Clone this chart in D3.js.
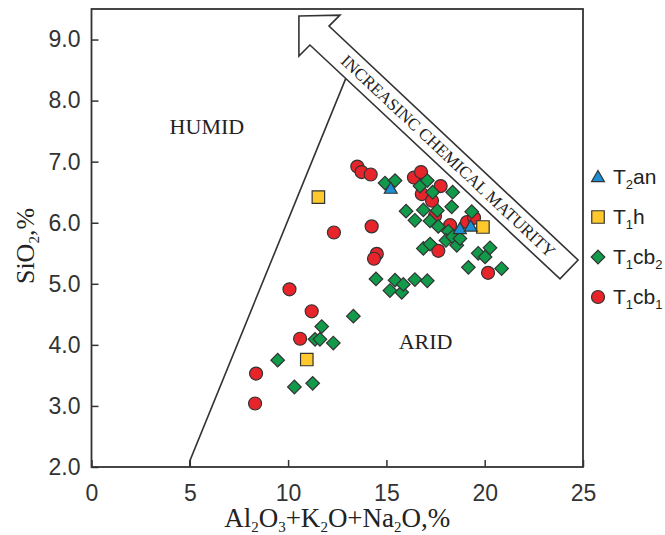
<!DOCTYPE html>
<html>
<head>
<meta charset="utf-8">
<script src="https://cdn.jsdelivr.net/npm/d3@7"></script>
<style>
  body { margin: 0; background: #fff; }
  svg { display: block; }
</style>
</head>
<body>
<svg id="chart" width="665" height="535"></svg>
<script>
// #region Data
const xTicks = [0, 5, 10, 15, 20, 25];
const yTicks = [2, 3, 4, 5, 6, 7, 8, 9];

// [Al2O3+K2O+Na2O %, SiO2 %]
const t2an = [[15.22, 6.56], [18.74, 5.9], [19.29, 5.94]];
const t1h = [[11.54, 6.42], [10.95, 3.76], [19.91, 5.93]];
const t1cb2 = [
  [9.47, 3.75], [10.32, 3.31], [11.25, 3.37], [11.37, 4.09], [11.62, 4.09],
  [11.71, 4.3], [12.3, 4.03], [13.32, 4.47], [14.47, 5.08], [15.18, 4.89],
  [15.44, 5.06], [15.78, 4.86], [15.86, 4.99], [16.45, 5.07], [17.08, 5.05],
  [14.93, 6.65], [15.44, 6.69], [16.71, 6.6], [17.08, 6.69], [17.35, 6.5],
  [18.37, 6.5], [16.0, 6.19], [16.88, 6.21], [17.59, 6.2], [18.32, 6.26],
  [16.45, 6.04], [17.22, 6.03], [17.64, 5.94], [19.34, 6.18], [18.15, 5.86],
  [18.03, 5.71], [18.37, 5.77], [18.58, 5.63], [18.74, 5.74], [16.88, 5.58],
  [17.22, 5.65], [19.67, 5.5], [20.02, 5.44], [20.27, 5.59], [19.17, 5.27],
  [20.86, 5.25]
];
const t1cb1 = [
  [8.32, 3.04], [8.37, 3.53], [10.07, 4.91], [10.61, 4.1], [11.2, 4.55],
  [12.33, 5.84], [13.52, 6.92], [13.74, 6.83], [14.2, 6.79], [14.25, 5.94],
  [14.51, 5.49], [14.37, 5.41], [16.4, 6.74], [16.76, 6.83], [17.76, 6.6],
  [16.8, 6.47], [17.32, 6.36], [17.47, 6.11], [17.64, 5.54], [18.24, 5.96],
  [19.1, 6.01], [19.46, 6.08], [20.17, 5.18]
];

const series = [
  { base: "T", sub: "2", rest: "an", shape: "triangle", color: "#1b8fd2", points: t2an },
  { base: "T", sub: "1", rest: "h", shape: "square", color: "#ffc82c", points: t1h },
  { base: "T", sub: "1", rest: "cb", sub2: "2", shape: "diamond", color: "#119a4a", points: t1cb2 },
  { base: "T", sub: "1", rest: "cb", sub2: "1", shape: "circle", color: "#e8242b", points: t1cb1 }
];

// humid / arid boundary and the maturity arrow, in data units
const boundary = [[5, 2], [5, 2.1], [12.93, 8.36]];
const maturityArrow = [
  [10.55, 9.385], [12.64, 9.4], [12.08, 9.22], [24.75, 5.39],
  [23.83, 5.08], [11.11, 8.91], [10.55, 8.73]
];
// #endregion

const svg = d3.select("#chart");
const frame = { left: 91.5, right: 583, top: 9, bottom: 467 };

const x = d3.scaleLinear().domain([0, 25]).range([frame.left, frame.right]);
const y = d3.scaleLinear().domain([2, 9.5]).range([frame.bottom, frame.top]);

const ink = "#333";
const sans = "Liberation Sans, Arial, sans-serif";
const serif = "Liberation Serif, Times New Roman, serif";

// axes with inward ticks
svg.append("g")
  .attr("transform", `translate(0,${frame.bottom})`)
  .call(d3.axisBottom(x).tickValues(xTicks).tickFormat(d3.format("d")).tickSize(-7).tickPadding(18))
  .call((g) => g.select(".domain").remove())
  .call((g) => g.selectAll("line").attr("stroke", ink).attr("stroke-width", 1.5))
  .call((g) => g.selectAll("text").attr("fill", ink).attr("font-family", sans).attr("font-size", 23));

svg.append("g")
  .attr("transform", `translate(${frame.left},0)`)
  .call(d3.axisLeft(y).tickValues(yTicks).tickFormat(d3.format(".1f")).tickSize(-7).tickPadding(11))
  .call((g) => g.select(".domain").remove())
  .call((g) => g.selectAll("line").attr("stroke", ink).attr("stroke-width", 1.5))
  .call((g) => g.selectAll("text").attr("fill", ink).attr("font-family", sans).attr("font-size", 23));

svg.append("rect")
  .attr("x", frame.left)
  .attr("y", frame.top)
  .attr("width", frame.right - frame.left)
  .attr("height", frame.bottom - frame.top)
  .attr("fill", "none")
  .attr("stroke", ink)
  .attr("stroke-width", 1.8);

// text with subscripts: parts are [text, isSub]
function addRich(textSel, parts, subSize, shift) {
  let lowered = false;
  parts.forEach(([t, isSub]) => {
    const span = textSel.append("tspan").text(t);
    if (isSub) span.attr("font-size", subSize);
    if (isSub && !lowered) { span.attr("dy", shift); lowered = true; }
    if (!isSub && lowered) { span.attr("dy", -shift); lowered = false; }
  });
}

// axis titles
const xTitle = svg.append("text")
  .attr("x", (frame.left + frame.right) / 2)
  .attr("y", 527)
  .attr("text-anchor", "middle")
  .attr("font-family", serif)
  .attr("font-size", 27)
  .attr("fill", "#222");
addRich(xTitle, [["Al", false], ["2", true], ["O", false], ["3", true], ["+K", false], ["2", true],
  ["O+Na", false], ["2", true], ["O,%", false]], 15, 5);

const yTitle = svg.append("text")
  .attr("transform", `translate(34,${(frame.top + frame.bottom) / 2 + 8}) rotate(-90)`)
  .attr("text-anchor", "middle")
  .attr("font-family", serif)
  .attr("font-size", 26)
  .attr("fill", "#222");
addRich(yTitle, [["SiO", false], ["2", true], [",%", false]], 15, 5);

// boundary line and arrow
const line = d3.line().x((d) => x(d[0])).y((d) => y(d[1]));
svg.append("path")
  .attr("d", line(boundary))
  .attr("fill", "none")
  .attr("stroke", ink)
  .attr("stroke-width", 1.6);

svg.append("path")
  .attr("d", line(maturityArrow) + "Z")
  .attr("fill", "#fff")
  .attr("stroke", ink)
  .attr("stroke-width", 1.6);

// label along the arrow shaft
const p0 = [x(maturityArrow[2][0]), y(maturityArrow[2][1])];
const p1 = [x(maturityArrow[3][0]), y(maturityArrow[3][1])];
const angle = (Math.atan2(p1[1] - p0[1], p1[0] - p0[0]) * 180) / Math.PI;
svg.append("text")
  .attr("transform", `translate(${x(18.13)},${y(7.09)}) rotate(${angle})`)
  .attr("text-anchor", "middle")
  .attr("dominant-baseline", "central")
  .attr("font-family", serif)
  .attr("font-size", 17)
  .attr("fill", "#222")
  .text("INCREASINC CHEMICAL MATURITY");

// region labels
svg.append("text")
  .attr("x", x(5.87)).attr("y", y(7.45))
  .attr("text-anchor", "middle")
  .attr("font-family", serif).attr("font-size", 22).attr("fill", "#222")
  .text("HUMID");
svg.append("text")
  .attr("x", x(16.99)).attr("y", y(3.93))
  .attr("text-anchor", "middle")
  .attr("font-family", serif).attr("font-size", 22).attr("fill", "#222")
  .text("ARID");

// markers
const symbolPath = {
  triangle: d3.symbol(d3.symbolTriangle, 72)(),
  square: d3.symbol(d3.symbolSquare, 156)(),
  diamond: d3.symbol(d3.symbolSquare, 92)(),
  circle: d3.symbol(d3.symbolCircle, 133)()
};
const markerTransform = (shape) =>
  shape === "diamond" ? " rotate(45)" : shape === "triangle" ? " translate(0,1)" : "";

[series[3], series[2], series[1], series[0]].forEach((s) => {
  svg.append("g")
    .selectAll("path")
    .data(s.points)
    .enter()
    .append("path")
    .attr("d", symbolPath[s.shape])
    .attr("transform", (d) => `translate(${x(d[0])},${y(d[1])})` + markerTransform(s.shape))
    .attr("fill", s.color)
    .attr("stroke", ink)
    .attr("stroke-width", 1.2);
});

// legend
const legend = svg.append("g").attr("transform", "translate(598,177)");
series.forEach((s, i) => {
  const row = legend.append("g").attr("transform", `translate(0,${i * 40})`);
  row.append("path")
    .attr("d", symbolPath[s.shape])
    .attr("transform", markerTransform(s.shape) || null)
    .attr("fill", s.color)
    .attr("stroke", ink)
    .attr("stroke-width", 1.2);
  const t = row.append("text")
    .attr("x", 15)
    .attr("y", 7)
    .attr("font-family", sans)
    .attr("font-size", 21)
    .attr("fill", "#222");
  const parts = [[s.base, false], [s.sub, true], [s.rest, false]];
  if (s.sub2) parts.push([s.sub2, true]);
  addRich(t, parts, 13, 5);
});
</script>
</body>
</html>
